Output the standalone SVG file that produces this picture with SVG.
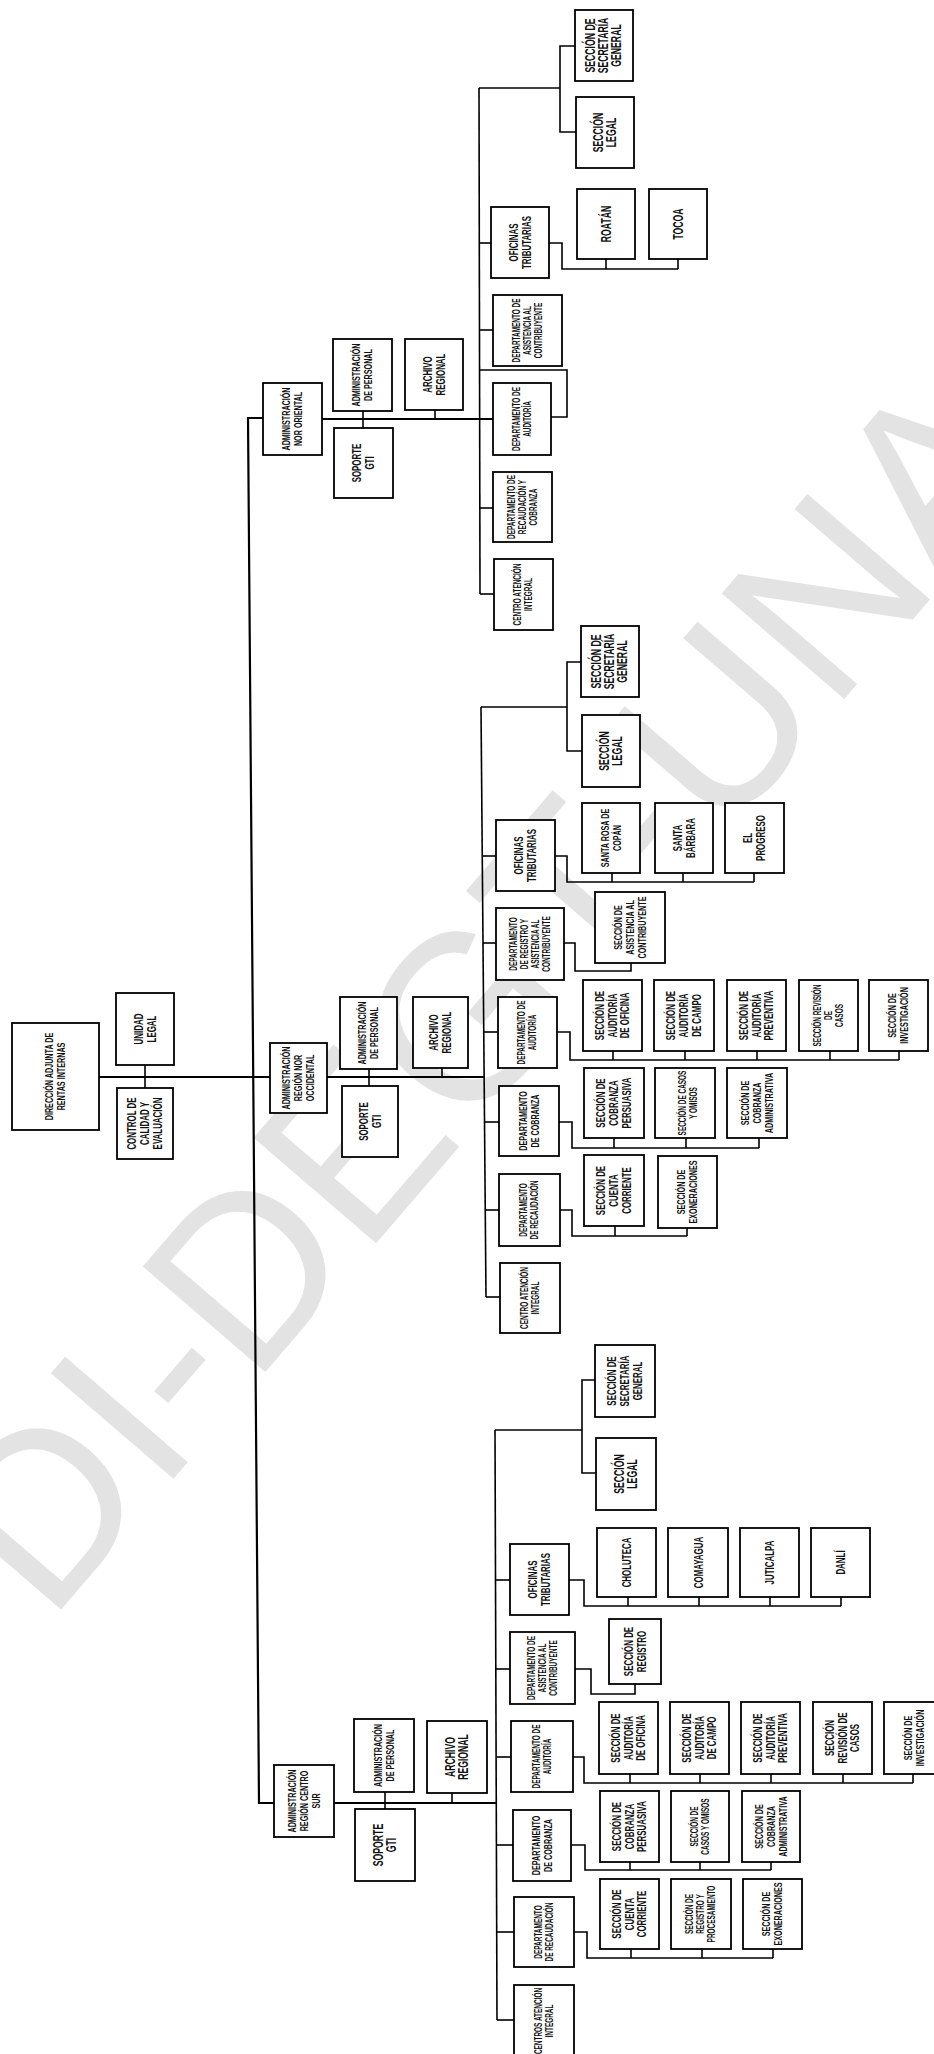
<svg xmlns="http://www.w3.org/2000/svg" width="934" height="2054" viewBox="0 0 934 2054">
<style>
.bg{fill:#fff}
.wm{font-family:"Liberation Sans",Arial,sans-serif;font-weight:normal;font-size:235px;fill:#e3e3e3}
.b{fill:#fff;stroke:#000;stroke-width:1.8}
.c{fill:none;stroke:#000;stroke-width:1.6;stroke-linejoin:miter}
.k{fill:none;stroke:#000;stroke-width:2.2}
.t{font-family:"Liberation Sans Narrow","Liberation Sans",Arial,sans-serif;font-weight:bold;text-anchor:middle;fill:#111}
.f12{font-size:14px}.f11{font-size:12.8px}.f10{font-size:11.6px}.f9{font-size:10.4px}
</style>
<rect class="bg" x="0" y="0" width="934" height="2054"/>
<text class="wm" transform="translate(48.6,1624) rotate(-49.3)">DI-DEGT-UNAH</text>

<g id="connectors">
<polyline class="k" points="263,418 248,418 259,1803 274,1803"/>
<line class="k" x1="99" y1="1077" x2="270" y2="1077"/>
<line class="k" x1="327" y1="1077" x2="484" y2="1077"/>
<line class="c" x1="145" y1="1065" x2="145" y2="1088"/>
<line class="c" x1="369" y1="1069" x2="369" y2="1086"/>
<line class="c" x1="442" y1="1068" x2="442" y2="1077"/>
<line class="k" x1="322" y1="419" x2="493" y2="419"/>
<line class="c" x1="363" y1="411" x2="363" y2="428"/>
<line class="c" x1="435" y1="410" x2="435" y2="419"/>
<line class="c" x1="479" y1="88" x2="480" y2="594"/>
<polyline class="c" points="479,88 560,88"/>
<polyline class="c" points="575,46 560,46 560,132 576,132"/>
<line class="c" x1="479" y1="243" x2="491" y2="243"/>
<line class="c" x1="479" y1="330" x2="493" y2="330"/>
<line class="c" x1="480" y1="508" x2="493" y2="508"/>
<line class="c" x1="480" y1="594" x2="494" y2="594"/>
<polyline class="c" points="479,370 567,370 567,417 551,417"/>
<polyline class="c" points="549,243 562,243 562,269 678,269"/>
<line class="c" x1="606" y1="269" x2="606" y2="259"/>
<line class="c" x1="678" y1="269" x2="678" y2="259"/>
<line class="c" x1="481" y1="707" x2="486" y2="1297"/>
<line class="c" x1="481" y1="707" x2="567" y2="707"/>
<polyline class="c" points="581,662 567,662 567,751 582,751"/>
<line class="c" x1="482" y1="856" x2="496" y2="856"/>
<line class="c" x1="483" y1="943" x2="496" y2="943"/>
<line class="c" x1="484" y1="1032" x2="498" y2="1032"/>
<line class="c" x1="485" y1="1122" x2="499" y2="1122"/>
<line class="c" x1="486" y1="1210" x2="499" y2="1210"/>
<line class="c" x1="486" y1="1297" x2="500" y2="1297"/>
<polyline class="c" points="555,856 567,856 567,882 754,882"/>
<line class="c" x1="612" y1="882" x2="612" y2="873"/>
<line class="c" x1="683" y1="882" x2="683" y2="873"/>
<line class="c" x1="754" y1="882" x2="754" y2="873"/>
<polyline class="c" points="564,943 575,943 575,971 631,971 631,963"/>
<polyline class="c" points="557,1032 570,1032 570,1060 899,1060"/>
<line class="c" x1="613" y1="1060" x2="613" y2="1051"/>
<line class="c" x1="685" y1="1060" x2="685" y2="1051"/>
<line class="c" x1="757" y1="1060" x2="757" y2="1051"/>
<line class="c" x1="830" y1="1060" x2="830" y2="1051"/>
<line class="c" x1="899" y1="1060" x2="899" y2="1051"/>
<polyline class="c" points="559,1122 572,1122 572,1148 759,1148"/>
<line class="c" x1="614" y1="1148" x2="614" y2="1138"/>
<line class="c" x1="686" y1="1148" x2="686" y2="1138"/>
<line class="c" x1="759" y1="1148" x2="759" y2="1138"/>
<polyline class="c" points="560,1210 572,1210 572,1236 687,1236"/>
<line class="c" x1="615" y1="1236" x2="615" y2="1226"/>
<line class="c" x1="687" y1="1236" x2="687" y2="1228"/>
<line class="k" x1="334" y1="1803" x2="497" y2="1803"/>
<line class="c" x1="385" y1="1792" x2="385" y2="1809"/>
<line class="c" x1="452" y1="1793" x2="452" y2="1803"/>
<line class="c" x1="495" y1="1430" x2="497" y2="2020"/>
<line class="c" x1="495" y1="1430" x2="582" y2="1430"/>
<polyline class="c" points="595,1380 582,1380 582,1473 596,1473"/>
<line class="c" x1="496" y1="1580" x2="510" y2="1580"/>
<line class="c" x1="496" y1="1669" x2="510" y2="1669"/>
<line class="c" x1="497" y1="1757" x2="511" y2="1757"/>
<line class="c" x1="497" y1="1845" x2="513" y2="1845"/>
<line class="c" x1="497" y1="1932" x2="514" y2="1932"/>
<line class="c" x1="497" y1="2020" x2="514" y2="2020"/>
<polyline class="c" points="569,1580 584,1580 584,1606 841,1606"/>
<line class="c" x1="628" y1="1606" x2="628" y2="1597"/>
<line class="c" x1="699" y1="1606" x2="699" y2="1597"/>
<line class="c" x1="770" y1="1606" x2="770" y2="1597"/>
<line class="c" x1="841" y1="1606" x2="841" y2="1597"/>
<polyline class="c" points="575,1669 591,1669 591,1694 635,1694 635,1684"/>
<polyline class="c" points="573,1757 584,1757 584,1783 913,1783"/>
<line class="c" x1="630" y1="1783" x2="630" y2="1774"/>
<line class="c" x1="700" y1="1783" x2="700" y2="1774"/>
<line class="c" x1="771" y1="1783" x2="771" y2="1774"/>
<line class="c" x1="843" y1="1783" x2="843" y2="1774"/>
<line class="c" x1="913" y1="1783" x2="913" y2="1774"/>
<polyline class="c" points="571,1845 585,1845 585,1870 771,1870"/>
<line class="c" x1="630" y1="1870" x2="630" y2="1862"/>
<line class="c" x1="700" y1="1870" x2="700" y2="1862"/>
<line class="c" x1="771" y1="1870" x2="771" y2="1862"/>
<polyline class="c" points="574,1932 587,1932 587,1958 773,1958"/>
<line class="c" x1="631" y1="1958" x2="631" y2="1949"/>
<line class="c" x1="702" y1="1958" x2="702" y2="1949"/>
<line class="c" x1="773" y1="1958" x2="773" y2="1949"/>
</g>

<g id="root"><rect class="b" x="12" y="1023" width="87" height="107"/><text class="t f10" transform="translate(55.5,1076.5) rotate(-90) scale(.62,1)"><tspan x="0" y="-2.4">DIRECCIÓN ADJUNTA DE</tspan><tspan x="0" y="9.6">RENTAS INTERNAS</tspan></text></g>
<g id="unidad-legal"><rect class="b" x="116" y="993" width="58" height="72"/><text class="t f11" transform="translate(145,1029) rotate(-90) scale(.62,1)"><tspan x="0" y="-2.5">UNIDAD</tspan><tspan x="0" y="10.5">LEGAL</tspan></text></g>
<g id="control-calidad"><rect class="b" x="117" y="1088" width="56" height="71"/><text class="t f11" transform="translate(145,1123.5) rotate(-90) scale(.62,1)"><tspan x="0" y="-9">CONTROL DE</tspan><tspan x="0" y="4">CALIDAD Y</tspan><tspan x="0" y="17">EVALUACIÓN</tspan></text></g>

<g id="no-adm"><rect class="b" x="263" y="383" width="59" height="72"/><text class="t f10" transform="translate(292.5,419) rotate(-90) scale(.62,1)"><tspan x="0" y="-2.4">ADMINISTRACIÓN</tspan><tspan x="0" y="9.6">NOR ORIENTAL</tspan></text></g>
<g id="no-per"><rect class="b" x="333" y="339" width="59" height="72"/><text class="t f10" transform="translate(362.5,375) rotate(-90) scale(.62,1)"><tspan x="0" y="-2.4">ADMINISTRACIÓN</tspan><tspan x="0" y="9.6">DE PERSONAL</tspan></text></g>
<g id="no-arc"><rect class="b" x="405" y="339" width="58" height="71"/><text class="t f11" transform="translate(434,374.5) rotate(-90) scale(.62,1)"><tspan x="0" y="-2.5">ARCHIVO</tspan><tspan x="0" y="10.5">REGIONAL</tspan></text></g>
<g id="no-gti"><rect class="b" x="334" y="428" width="59" height="70"/><text class="t f11" transform="translate(363.5,463) rotate(-90) scale(.62,1)"><tspan x="0" y="-2.5">SOPORTE</tspan><tspan x="0" y="10.5">GTI</tspan></text></g>
<g id="no-sec"><rect class="b" x="575" y="10" width="58" height="71"/><text class="t f12" transform="translate(604,45.5) rotate(-90) scale(.62,1)"><tspan x="0" y="-8.7">SECCIÓN DE</tspan><tspan x="0" y="4.3">SECRETARÍA</tspan><tspan x="0" y="17.3">GENERAL</tspan></text></g>
<g id="no-leg"><rect class="b" x="576" y="97" width="58" height="71"/><text class="t f12" transform="translate(605,132.5) rotate(-90) scale(.62,1)"><tspan x="0" y="-2.2">SECCIÓN</tspan><tspan x="0" y="10.8">LEGAL</tspan></text></g>
<g id="no-ofi"><rect class="b" x="491" y="207" width="58" height="71"/><text class="t f11" transform="translate(520,242.5) rotate(-90) scale(.62,1)"><tspan x="0" y="-2.5">OFICINAS</tspan><tspan x="0" y="10.5">TRIBUTARIAS</tspan></text></g>
<g id="no-roatan"><rect class="b" x="577" y="189" width="58" height="70"/><text class="t f12" transform="translate(606,224) rotate(-90) scale(.62,1)"><tspan x="0" y="4.8">ROATÁN</tspan></text></g>
<g id="no-tocoa"><rect class="b" x="649" y="189" width="58" height="70"/><text class="t f12" transform="translate(678,224) rotate(-90) scale(.62,1)"><tspan x="0" y="4.8">TOCOA</tspan></text></g>
<g id="no-asi"><rect class="b" x="493" y="295" width="69" height="71"/><text class="t f9" transform="translate(527.5,330.5) rotate(-90) scale(.62,1)"><tspan x="0" y="-7.8">DEPARTAMENTO DE</tspan><tspan x="0" y="3.2">ASISTENCIA AL</tspan><tspan x="0" y="14.2">CONTRIBUYENTE</tspan></text></g>
<g id="no-aud"><rect class="b" x="493" y="383" width="58" height="72"/><text class="t f9" transform="translate(522,419) rotate(-90) scale(.62,1)"><tspan x="0" y="-2.3">DEPARTAMENTO DE</tspan><tspan x="0" y="8.7">AUDITORÍA</tspan></text></g>
<g id="no-rec"><rect class="b" x="493" y="472" width="59" height="70"/><text class="t f9" transform="translate(522.5,507) rotate(-90) scale(.62,1)"><tspan x="0" y="-7.8">DEPARTAMENTO DE</tspan><tspan x="0" y="3.2">RECAUDACIÓN Y</tspan><tspan x="0" y="14.2">COBRANZA</tspan></text></g>
<g id="no-cen"><rect class="b" x="494" y="559" width="59" height="71"/><text class="t f9" transform="translate(523.5,594.5) rotate(-90) scale(.62,1)"><tspan x="0" y="-2.3">CENTRO ATENCIÓN</tspan><tspan x="0" y="8.7">INTEGRAL</tspan></text></g>

<g id="nc-adm"><rect class="b" x="270" y="1043" width="57" height="70"/><text class="t f10" transform="translate(298.5,1078) rotate(-90) scale(.62,1)"><tspan x="0" y="-8.4">ADMINISTRACIÓN</tspan><tspan x="0" y="3.6">REGIÓN NOR</tspan><tspan x="0" y="15.6">OCCIDENTAL</tspan></text></g>
<g id="nc-per"><rect class="b" x="340" y="997" width="57" height="72"/><text class="t f10" transform="translate(368.5,1033) rotate(-90) scale(.62,1)"><tspan x="0" y="-2.4">ADMINISTRACIÓN</tspan><tspan x="0" y="9.6">DE PERSONAL</tspan></text></g>
<g id="nc-arc"><rect class="b" x="413" y="997" width="55" height="71"/><text class="t f11" transform="translate(440.5,1032.5) rotate(-90) scale(.62,1)"><tspan x="0" y="-2.5">ARCHIVO</tspan><tspan x="0" y="10.5">REGIONAL</tspan></text></g>
<g id="nc-gti"><rect class="b" x="342" y="1086" width="56" height="71"/><text class="t f11" transform="translate(370,1121.5) rotate(-90) scale(.62,1)"><tspan x="0" y="-2.5">SOPORTE</tspan><tspan x="0" y="10.5">GTI</tspan></text></g>
<g id="nc-sec"><rect class="b" x="581" y="626" width="58" height="71"/><text class="t f12" transform="translate(610,661.5) rotate(-90) scale(.62,1)"><tspan x="0" y="-8.7">SECCIÓN DE</tspan><tspan x="0" y="4.3">SECRETARÍA</tspan><tspan x="0" y="17.3">GENERAL</tspan></text></g>
<g id="nc-leg"><rect class="b" x="582" y="715" width="58" height="72"/><text class="t f12" transform="translate(611,751) rotate(-90) scale(.62,1)"><tspan x="0" y="-2.2">SECCIÓN</tspan><tspan x="0" y="10.8">LEGAL</tspan></text></g>
<g id="nc-ofi"><rect class="b" x="496" y="820" width="59" height="71"/><text class="t f11" transform="translate(525.5,855.5) rotate(-90) scale(.62,1)"><tspan x="0" y="-2.5">OFICINAS</tspan><tspan x="0" y="10.5">TRIBUTARIAS</tspan></text></g>
<g id="nc-srosa"><rect class="b" x="582" y="803" width="58" height="70"/><text class="t f10" transform="translate(611,838) rotate(-90) scale(.62,1)"><tspan x="0" y="-2.4">SANTA ROSA DE</tspan><tspan x="0" y="9.6">COPÁN</tspan></text></g>
<g id="nc-sbar"><rect class="b" x="655" y="803" width="58" height="70"/><text class="t f11" transform="translate(684,838) rotate(-90) scale(.62,1)"><tspan x="0" y="-2.5">SANTA</tspan><tspan x="0" y="10.5">BÁRBARA</tspan></text></g>
<g id="nc-prog"><rect class="b" x="725" y="803" width="59" height="70"/><text class="t f11" transform="translate(754.5,838) rotate(-90) scale(.62,1)"><tspan x="0" y="-2.5">EL</tspan><tspan x="0" y="10.5">PROGRESO</tspan></text></g>
<g id="nc-reg"><rect class="b" x="496" y="908" width="68" height="72"/><text class="t f9" transform="translate(530,944) rotate(-90) scale(.62,1)"><tspan x="0" y="-13.3">DEPARTAMENTO</tspan><tspan x="0" y="-2.3">DE REGISTRO Y</tspan><tspan x="0" y="8.7">ASISTENCIA AL</tspan><tspan x="0" y="19.7">CONTRIBUYENTE</tspan></text></g>
<g id="nc-sasi"><rect class="b" x="595" y="892" width="70" height="71"/><text class="t f10" transform="translate(630,927.5) rotate(-90) scale(.62,1)"><tspan x="0" y="-8.4">SECCIÓN DE</tspan><tspan x="0" y="3.6">ASISTENCIA AL</tspan><tspan x="0" y="15.6">CONTRIBUYENTE</tspan></text></g>
<g id="nc-aud"><rect class="b" x="498" y="997" width="59" height="71"/><text class="t f9" transform="translate(527.5,1032.5) rotate(-90) scale(.62,1)"><tspan x="0" y="-2.3">DEPARTAMENTO DE</tspan><tspan x="0" y="8.7">AUDITORÍA</tspan></text></g>
<g id="nc-a1"><rect class="b" x="583" y="980" width="59" height="71"/><text class="t f11" transform="translate(612.5,1015.5) rotate(-90) scale(.62,1)"><tspan x="0" y="-9">SECCIÓN DE</tspan><tspan x="0" y="4">AUDITORÍA</tspan><tspan x="0" y="17">DE OFICINA</tspan></text></g>
<g id="nc-a2"><rect class="b" x="654" y="980" width="60" height="71"/><text class="t f11" transform="translate(684,1015.5) rotate(-90) scale(.62,1)"><tspan x="0" y="-9">SECCIÓN DE</tspan><tspan x="0" y="4">AUDITORÍA</tspan><tspan x="0" y="17">DE CAMPO</tspan></text></g>
<g id="nc-a3"><rect class="b" x="727" y="980" width="59" height="71"/><text class="t f11" transform="translate(756.5,1015.5) rotate(-90) scale(.62,1)"><tspan x="0" y="-9">SECCIÓN DE</tspan><tspan x="0" y="4">AUDITORÍA</tspan><tspan x="0" y="17">PREVENTIVA</tspan></text></g>
<g id="nc-a4"><rect class="b" x="799" y="980" width="59" height="71"/><text class="t f9" transform="translate(828.5,1015.5) rotate(-90) scale(.62,1)"><tspan x="0" y="-7.8">SECCIÓN REVISIÓN</tspan><tspan x="0" y="3.2">DE</tspan><tspan x="0" y="14.2">CASOS</tspan></text></g>
<g id="nc-a5"><rect class="b" x="869" y="980" width="59" height="71"/><text class="t f10" transform="translate(898.5,1015.5) rotate(-90) scale(.62,1)"><tspan x="0" y="-2.4">SECCIÓN DE</tspan><tspan x="0" y="9.6">INVESTIGACIÓN</tspan></text></g>
<g id="nc-cob"><rect class="b" x="499" y="1086" width="60" height="70"/><text class="t f10" transform="translate(529,1121) rotate(-90) scale(.62,1)"><tspan x="0" y="-2.4">DEPARTAMENTO</tspan><tspan x="0" y="9.6">DE COBRANZA</tspan></text></g>
<g id="nc-c1"><rect class="b" x="584" y="1068" width="60" height="70"/><text class="t f11" transform="translate(614,1103) rotate(-90) scale(.62,1)"><tspan x="0" y="-9">SECCIÓN DE</tspan><tspan x="0" y="4">COBRANZA</tspan><tspan x="0" y="17">PERSUASIVA</tspan></text></g>
<g id="nc-c2"><rect class="b" x="655" y="1068" width="60" height="70"/><text class="t f9" transform="translate(688,1103) rotate(-90) scale(.62,1)"><tspan x="0" y="-2.3">SECCIÓN DE CASOS</tspan><tspan x="0" y="8.7">Y OMISOS</tspan></text></g>
<g id="nc-c3"><rect class="b" x="727" y="1068" width="60" height="70"/><text class="t f10" transform="translate(757,1103) rotate(-90) scale(.62,1)"><tspan x="0" y="-8.4">SECCIÓN DE</tspan><tspan x="0" y="3.6">COBRANZA</tspan><tspan x="0" y="15.6">ADMINISTRATIVA</tspan></text></g>
<g id="nc-rec"><rect class="b" x="499" y="1174" width="61" height="72"/><text class="t f9" transform="translate(529.5,1210) rotate(-90) scale(.62,1)"><tspan x="0" y="-2.3">DEPARTAMENTO</tspan><tspan x="0" y="8.7">DE RECAUDACIÓN</tspan></text></g>
<g id="nc-r1"><rect class="b" x="584" y="1155" width="60" height="71"/><text class="t f11" transform="translate(614,1190.5) rotate(-90) scale(.62,1)"><tspan x="0" y="-9">SECCIÓN DE</tspan><tspan x="0" y="4">CUENTA</tspan><tspan x="0" y="17">CORRIENTE</tspan></text></g>
<g id="nc-r2"><rect class="b" x="658" y="1156" width="59" height="72"/><text class="t f10" transform="translate(687.5,1192) rotate(-90) scale(.62,1)"><tspan x="0" y="-2.4">SECCIÓN DE</tspan><tspan x="0" y="9.6">EXONERACIONES</tspan></text></g>
<g id="nc-cen"><rect class="b" x="500" y="1263" width="60" height="70"/><text class="t f9" transform="translate(530,1298) rotate(-90) scale(.62,1)"><tspan x="0" y="-2.3">CENTRO ATENCIÓN</tspan><tspan x="0" y="8.7">INTEGRAL</tspan></text></g>

<g id="cs-adm"><rect class="b" x="274" y="1765" width="60" height="72"/><text class="t f10" transform="translate(304,1801) rotate(-90) scale(.62,1)"><tspan x="0" y="-8.4">ADMINISTRACIÓN</tspan><tspan x="0" y="3.6">REGIÓN CENTRO</tspan><tspan x="0" y="15.6">SUR</tspan></text></g>
<g id="cs-per"><rect class="b" x="354" y="1719" width="60" height="73"/><text class="t f10" transform="translate(384,1755.5) rotate(-90) scale(.62,1)"><tspan x="0" y="-2.4">ADMINISTRACIÓN</tspan><tspan x="0" y="9.6">DE PERSONAL</tspan></text></g>
<g id="cs-arc"><rect class="b" x="427" y="1721" width="60" height="72"/><text class="t f12" transform="translate(457,1757) rotate(-90) scale(.62,1)"><tspan x="0" y="-2.2">ARCHIVO</tspan><tspan x="0" y="10.8">REGIONAL</tspan></text></g>
<g id="cs-gti"><rect class="b" x="355" y="1809" width="60" height="72"/><text class="t f12" transform="translate(385,1845) rotate(-90) scale(.62,1)"><tspan x="0" y="-2.2">SOPORTE</tspan><tspan x="0" y="10.8">GTI</tspan></text></g>
<g id="cs-sec"><rect class="b" x="595" y="1345" width="60" height="72"/><text class="t f11" transform="translate(625,1381) rotate(-90) scale(.62,1)"><tspan x="0" y="-9">SECCIÓN DE</tspan><tspan x="0" y="4">SECRETARÍA</tspan><tspan x="0" y="17">GENERAL</tspan></text></g>
<g id="cs-leg"><rect class="b" x="596" y="1438" width="60" height="72"/><text class="t f12" transform="translate(626,1474) rotate(-90) scale(.62,1)"><tspan x="0" y="-2.2">SECCIÓN</tspan><tspan x="0" y="10.8">LEGAL</tspan></text></g>
<g id="cs-ofi"><rect class="b" x="510" y="1544" width="59" height="71"/><text class="t f11" transform="translate(539.5,1579.5) rotate(-90) scale(.62,1)"><tspan x="0" y="-2.5">OFICINAS</tspan><tspan x="0" y="10.5">TRIBUTARIAS</tspan></text></g>
<g id="cs-cholu"><rect class="b" x="597" y="1528" width="59" height="69"/><text class="t f11" transform="translate(626.5,1562.5) rotate(-90) scale(.62,1)"><tspan x="0" y="4.5">CHOLUTECA</tspan></text></g>
<g id="cs-comay"><rect class="b" x="668" y="1528" width="60" height="69"/><text class="t f11" transform="translate(698,1562.5) rotate(-90) scale(.62,1)"><tspan x="0" y="4.5">COMAYAGUA</tspan></text></g>
<g id="cs-jutic"><rect class="b" x="740" y="1528" width="59" height="69"/><text class="t f11" transform="translate(769.5,1562.5) rotate(-90) scale(.62,1)"><tspan x="0" y="4.5">JUTICALPA</tspan></text></g>
<g id="cs-danli"><rect class="b" x="811" y="1528" width="59" height="69"/><text class="t f11" transform="translate(840.5,1562.5) rotate(-90) scale(.62,1)"><tspan x="0" y="4.5">DANLÍ</tspan></text></g>
<g id="cs-asi"><rect class="b" x="510" y="1632" width="65" height="72"/><text class="t f9" transform="translate(542.5,1668) rotate(-90) scale(.62,1)"><tspan x="0" y="-7.8">DEPARTAMENTO DE</tspan><tspan x="0" y="3.2">ASISTENCIA AL</tspan><tspan x="0" y="14.2">CONTRIBUYENTE</tspan></text></g>
<g id="cs-sreg"><rect class="b" x="609" y="1619" width="52" height="65"/><text class="t f11" transform="translate(635,1651.5) rotate(-90) scale(.62,1)"><tspan x="0" y="-2.5">SECCIÓN DE</tspan><tspan x="0" y="10.5">REGISTRO</tspan></text></g>
<g id="cs-aud"><rect class="b" x="511" y="1721" width="62" height="71"/><text class="t f9" transform="translate(542,1756.5) rotate(-90) scale(.62,1)"><tspan x="0" y="-2.3">DEPARTAMENTO DE</tspan><tspan x="0" y="8.7">AUDITORÍA</tspan></text></g>
<g id="cs-a1"><rect class="b" x="599" y="1702" width="59" height="72"/><text class="t f11" transform="translate(628.5,1738) rotate(-90) scale(.62,1)"><tspan x="0" y="-9">SECCIÓN DE</tspan><tspan x="0" y="4">AUDITORÍA</tspan><tspan x="0" y="17">DE OFICINA</tspan></text></g>
<g id="cs-a2"><rect class="b" x="670" y="1702" width="59" height="72"/><text class="t f11" transform="translate(699.5,1738) rotate(-90) scale(.62,1)"><tspan x="0" y="-9">SECCIÓN DE</tspan><tspan x="0" y="4">AUDITORÍA</tspan><tspan x="0" y="17">DE CAMPO</tspan></text></g>
<g id="cs-a3"><rect class="b" x="741" y="1702" width="59" height="72"/><text class="t f11" transform="translate(770.5,1738) rotate(-90) scale(.62,1)"><tspan x="0" y="-9">SECCIÓN DE</tspan><tspan x="0" y="4">AUDITORÍA</tspan><tspan x="0" y="17">PREVENTIVA</tspan></text></g>
<g id="cs-a4"><rect class="b" x="813" y="1702" width="59" height="72"/><text class="t f11" transform="translate(842.5,1738) rotate(-90) scale(.62,1)"><tspan x="0" y="-9">SECCIÓN</tspan><tspan x="0" y="4">REVISIÓN DE</tspan><tspan x="0" y="17">CASOS</tspan></text></g>
<g id="cs-a5"><rect class="b" x="884" y="1702" width="60" height="72"/><text class="t f10" transform="translate(914,1738) rotate(-90) scale(.62,1)"><tspan x="0" y="-2.4">SECCIÓN DE</tspan><tspan x="0" y="9.6">INVESTIGACIÓN</tspan></text></g>
<g id="cs-cob"><rect class="b" x="513" y="1810" width="58" height="71"/><text class="t f10" transform="translate(542,1845.5) rotate(-90) scale(.62,1)"><tspan x="0" y="-2.4">DEPARTAMENTO</tspan><tspan x="0" y="9.6">DE COBRANZA</tspan></text></g>
<g id="cs-c1"><rect class="b" x="600" y="1791" width="59" height="71"/><text class="t f11" transform="translate(629.5,1826.5) rotate(-90) scale(.62,1)"><tspan x="0" y="-9">SECCIÓN DE</tspan><tspan x="0" y="4">COBRANZA</tspan><tspan x="0" y="17">PERSUASIVA</tspan></text></g>
<g id="cs-c2"><rect class="b" x="671" y="1791" width="58" height="71"/><text class="t f9" transform="translate(700,1826.5) rotate(-90) scale(.62,1)"><tspan x="0" y="-2.3">SECCIÓN DE</tspan><tspan x="0" y="8.7">CASOS Y OMISOS</tspan></text></g>
<g id="cs-c3"><rect class="b" x="742" y="1791" width="58" height="71"/><text class="t f10" transform="translate(771,1826.5) rotate(-90) scale(.62,1)"><tspan x="0" y="-8.4">SECCIÓN DE</tspan><tspan x="0" y="3.6">COBRANZA</tspan><tspan x="0" y="15.6">ADMINISTRATIVA</tspan></text></g>
<g id="cs-rec"><rect class="b" x="514" y="1897" width="60" height="70"/><text class="t f9" transform="translate(544,1932) rotate(-90) scale(.62,1)"><tspan x="0" y="-2.3">DEPARTAMENTO</tspan><tspan x="0" y="8.7">DE RECAUDACIÓN</tspan></text></g>
<g id="cs-r1"><rect class="b" x="600" y="1879" width="59" height="70"/><text class="t f11" transform="translate(629.5,1914) rotate(-90) scale(.62,1)"><tspan x="0" y="-9">SECCIÓN DE</tspan><tspan x="0" y="4">CUENTA</tspan><tspan x="0" y="17">CORRIENTE</tspan></text></g>
<g id="cs-r2"><rect class="b" x="671" y="1879" width="60" height="70"/><text class="t f9" transform="translate(701,1914) rotate(-90) scale(.62,1)"><tspan x="0" y="-7.8">SECCIÓN DE</tspan><tspan x="0" y="3.2">REGISTRO Y</tspan><tspan x="0" y="14.2">PROCESAMIENTO</tspan></text></g>
<g id="cs-r3"><rect class="b" x="743" y="1879" width="59" height="70"/><text class="t f10" transform="translate(772.5,1914) rotate(-90) scale(.62,1)"><tspan x="0" y="-2.4">SECCIÓN DE</tspan><tspan x="0" y="9.6">EXONERACIONES</tspan></text></g>
<g id="cs-cen"><rect class="b" x="514" y="1985" width="60" height="75"/><text class="t f9" transform="translate(544,2021) rotate(-90) scale(.62,1)"><tspan x="0" y="-2.3">CENTROS ATENCIÓN</tspan><tspan x="0" y="8.7">INTEGRAL</tspan></text></g>
</svg>
